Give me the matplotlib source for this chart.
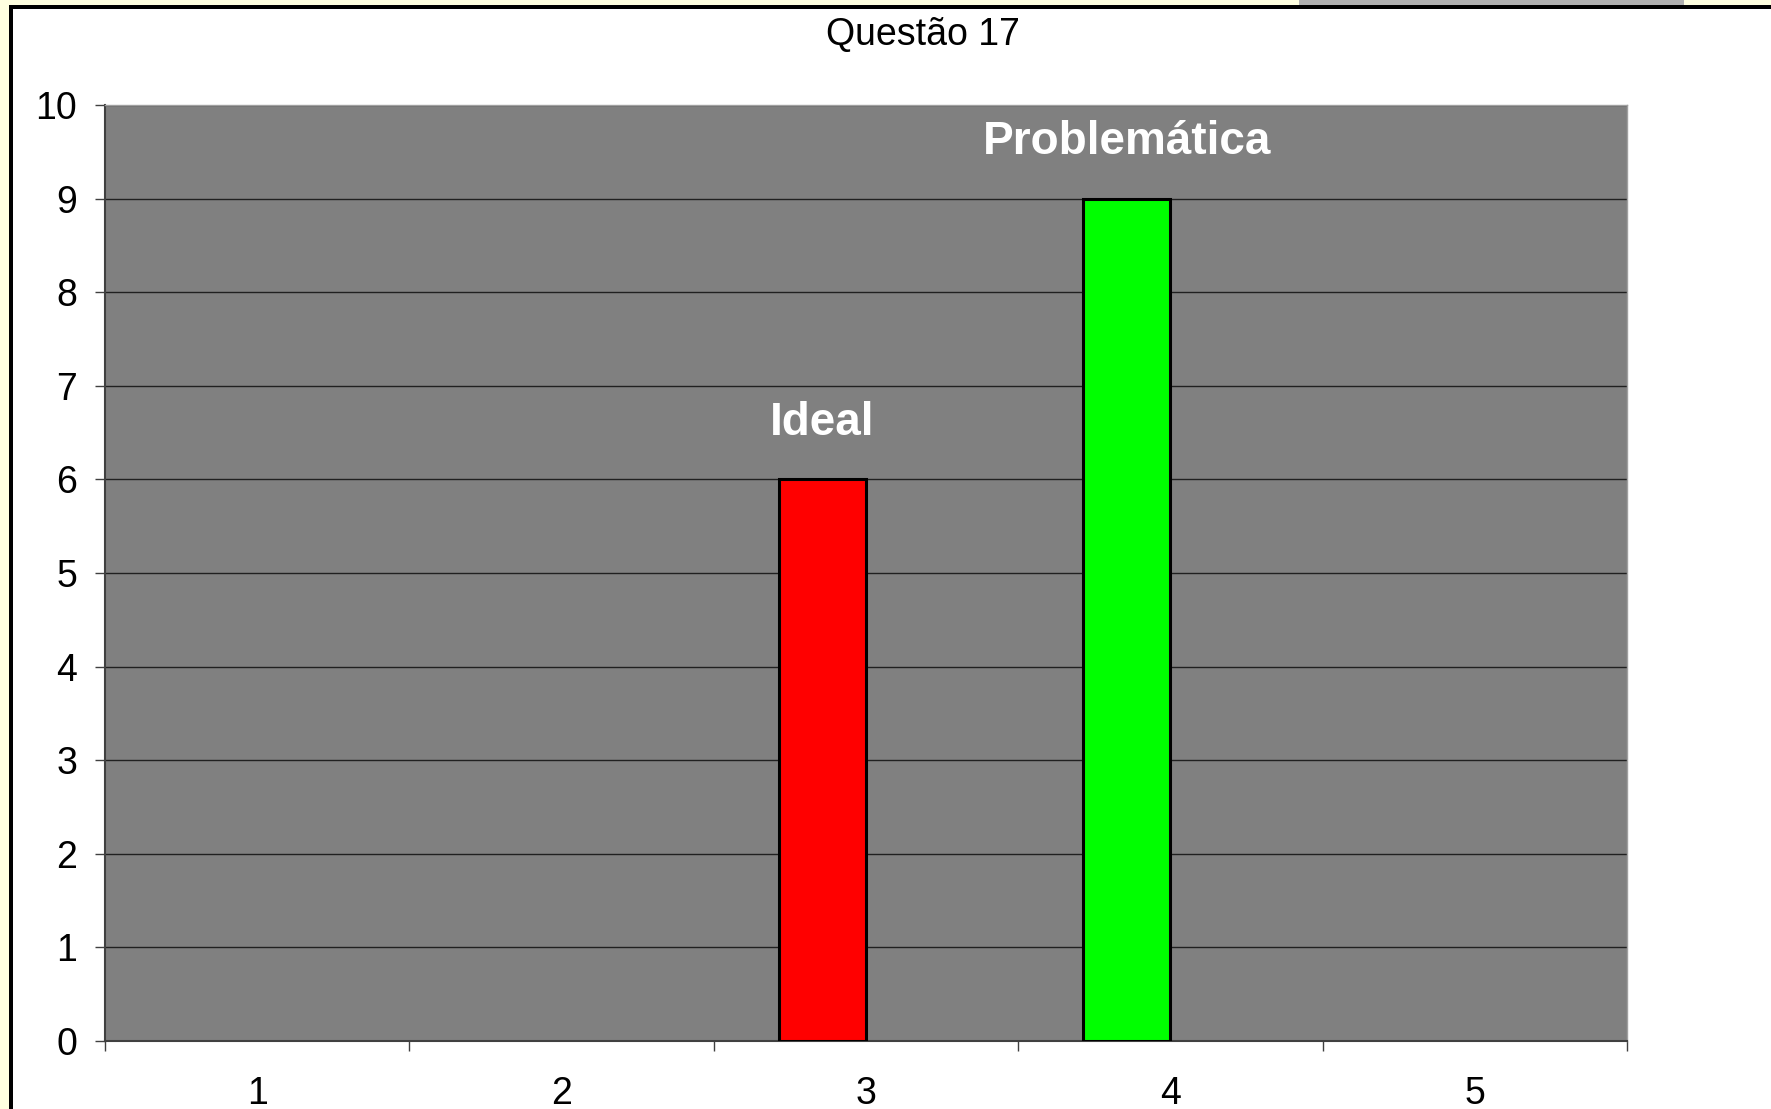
import matplotlib.pyplot as plt
from matplotlib.patches import Rectangle
from matplotlib.ticker import FixedLocator

plt.rcParams['font.family'] = ['Liberation Sans', 'DejaVu Sans']

# Dados do gráfico
categorias = [1, 2, 3, 4, 5]
valores = [0, 0, 6, 9, 0]
cores = ['#FF0000', '#FF0000', '#FF0000', '#00FF00', '#FF0000']
rotulos = {3: 'Ideal', 4: 'Problemática'}
titulo = 'Questão 17'

fig = plt.figure(figsize=(17.71, 11.09), dpi=100)
fig.patch.set_facecolor('white')

# Moldura (fundo amarelo claro e borda preta)
fig.patches.append(Rectangle((0, 0), 9 / 1771, 1, transform=fig.transFigure,
                             facecolor='#FFFFE0', edgecolor='none', zorder=0))
fig.patches.append(Rectangle((0, 1 - 5 / 1109), 1, 5 / 1109, transform=fig.transFigure,
                             facecolor='#FFFFE0', edgecolor='none', zorder=0))
fig.patches.append(Rectangle((1299 / 1771, 1 - 5 / 1109), 385 / 1771, 5 / 1109,
                             transform=fig.transFigure, facecolor='#B0B0B0',
                             edgecolor='none', zorder=1))
fig.patches.append(Rectangle((9 / 1771, 0), 4 / 1771, 1 - 5 / 1109, transform=fig.transFigure,
                             facecolor='black', edgecolor='none', zorder=1))
fig.patches.append(Rectangle((9 / 1771, 1 - 9 / 1109), 1 - 9 / 1771, 4 / 1109,
                             transform=fig.transFigure, facecolor='black',
                             edgecolor='none', zorder=1))

ax = fig.add_axes([105 / 1771, 68 / 1109, 1522 / 1771, 936 / 1109])
ax.set_facecolor('#808080')

# Barras (série deslocada para a esquerda, como no gráfico agrupado do Excel)
w = 1 / 3.5
xs = [c - w / 2 for c in categorias]
bordas = ['black' if v > 0 else 'none' for v in valores]
ax.bar(xs, valores, width=w, color=cores, edgecolor=bordas, linewidth=2.2, zorder=3)

for c, v, x in zip(categorias, valores, xs):
    if c in rotulos:
        ax.text(x, v + 0.6, rotulos[c], color='white', fontsize=33, fontweight='bold',
                ha='center', va='center', zorder=4)

ax.set_xlim(0.5, 5.5)
ax.set_ylim(0, 10)
ax.set_yticks(range(0, 11))
ax.yaxis.grid(True, color='#202020', linewidth=1.0, zorder=1)
ax.set_axisbelow(True)

ax.set_xticks(categorias)
ax.set_xticklabels([str(c) for c in categorias])
ax.xaxis.set_minor_locator(FixedLocator([0.5, 1.5, 2.5, 3.5, 4.5, 5.5]))
ax.tick_params(axis='x', which='major', length=0, pad=25, labelsize=27)
ax.tick_params(axis='x', which='minor', length=7, width=1, color='#404040', direction='out')
ax.tick_params(axis='y', length=7, width=1, color='#404040', direction='out', pad=13,
               labelsize=27)

for s in ['left', 'bottom']:
    ax.spines[s].set_color('#404040')
    ax.spines[s].set_linewidth(1.5)
for s in ['top', 'right']:
    ax.spines[s].set_color('#A0A0A0')
    ax.spines[s].set_linewidth(1.0)

fig.text(923 / 1771, 1 - 35 / 1109, titulo, fontsize=27, ha='center', va='center')

plt.savefig('out.png', dpi=100)
